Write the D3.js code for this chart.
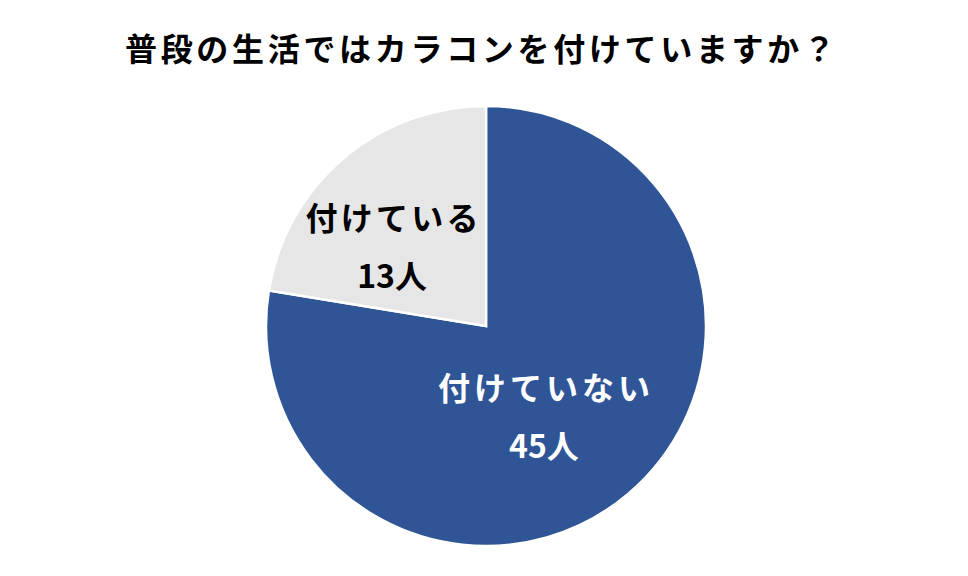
<!DOCTYPE html>
<html><head><meta charset="utf-8">
<script src="https://cdn.jsdelivr.net/npm/d3@7"></script>
<style>body{margin:0;background:#fff}svg{display:block}</style>
</head><body>
<svg id="c" width="968" height="576"></svg>
<script>
const title = "普段の生活ではカラコンを付けていますか？";
const categories = ["付けていない", "付けている"];
const values = [45, 13];
const unitLabels = ["45人", "13人"];
const colors = ["#2F5597", "#E7E6E6"];
const textColors = ["#FFFFFF", "#000000"];

const svg = d3.select("#c");
const cx = 486, cy = 326, R = 220;
const font = "'Noto Sans CJK JP', 'Noto Sans', sans-serif";

svg.append("text").attr("x", 480).attr("y", 47)
  .attr("text-anchor", "middle").attr("dominant-baseline", "central")
  .attr("font-family", font)
  .attr("font-weight", "bold").attr("font-size", 32)
  .attr("textLength", 710).attr("lengthAdjust", "spacing")
  .text(title);

const pie = d3.pie().sort(null).value(d => d)(values);
const arc = d3.arc().innerRadius(0).outerRadius(R);
const g = svg.append("g").attr("transform", `translate(${cx},${cy})`);
g.selectAll("path").data(pie).join("path")
  .attr("d", arc).attr("fill", (d, i) => colors[i])
  .attr("stroke", "#fff").attr("stroke-width", 2.5).attr("stroke-linejoin", "miter");

const labelR = [0.483, 0.564];
const labelShift = [0.127, -0.155];
const labelWidth = [212, 173];
pie.forEach((d, i) => {
  const a = (d.startAngle + d.endAngle) / 2 + labelShift[i];
  const r = R * labelR[i];
  const x = Math.sin(a) * r, y = -Math.cos(a) * r;
  const common = t => t.attr("text-anchor", "middle").attr("dominant-baseline", "central")
    .attr("font-family", font).attr("font-weight", "bold").attr("font-size", 32)
    .attr("fill", textColors[i]);
  common(g.append("text")).attr("x", x).attr("y", y - 29)
    .attr("textLength", labelWidth[i]).attr("lengthAdjust", "spacing")
    .text(categories[i]);
  common(g.append("text")).attr("x", x).attr("y", y + 29).text(unitLabels[i]);
});
</script>
</body></html>
